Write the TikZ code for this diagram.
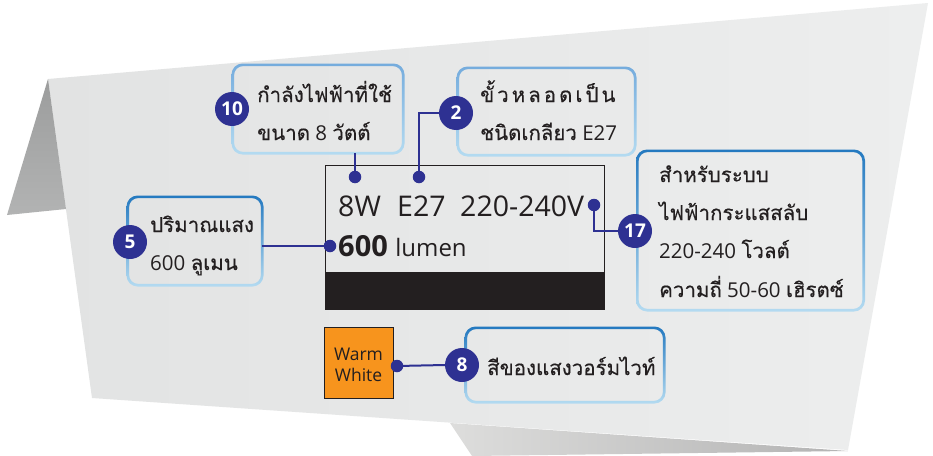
\documentclass[tikz,border=0pt]{standalone}
\usepackage{fontspec}
\setmainfont{Open Sans}
\newfontfamily\thai[Script=Thai, FakeBold=0.4]{Loma}
\usetikzlibrary{calc}
\definecolor{navy}{HTML}{2E3192}
\definecolor{sheetA}{HTML}{E2E3E3}
\definecolor{sheetB}{HTML}{EDEEEE}
\definecolor{foldA}{HTML}{9C9D9D}
\definecolor{foldB}{HTML}{B2B3B3}
\definecolor{shadA}{HTML}{DDDDDC}
\definecolor{shadB}{HTML}{B3B3B3}
\definecolor{ringDark}{HTML}{2479C0}
\definecolor{ringMid}{HTML}{75ACDD}
\definecolor{ringLight}{HTML}{B4DBF1}
\definecolor{labelblack}{HTML}{231F20}
\definecolor{warm}{HTML}{F7941D}
\definecolor{txt}{HTML}{231F20}
\tikzset{
  boxsty/.style={draw=none, inner sep=0pt},
  badge/.style={circle, fill=navy, text=white, inner sep=0pt, minimum size=34pt,
    font=\fontsize{19}{19}\selectfont\bfseries},
  dotsty/.style={circle, fill=navy, inner sep=0pt, minimum size=12.5pt},
  conn/.style={draw=navy, line width=2pt},
  thaitxt/.style={anchor=base west, inner sep=0pt, text=txt, font=\fontsize{20.5}{20.5}\selectfont},
  labtxt/.style={anchor=base west, inner sep=0pt, text=txt, font=\fontsize{28.5}{28.5}\selectfont},
  wwtxt/.style={anchor=base, inner sep=0pt, text=txt, font=\fontsize{17.5}{17.5}\selectfont},
}
\newcommand{\tht}[1]{{\thai\fontsize{20.5}{20.5}\selectfont #1}}
\newcommand{\boxring}[3]{%
  \shade[top color=#2, bottom color=#3, even odd rule, rounded corners=11pt]
    ($(#1.south west)+(-1.3,1.3)$) rectangle ($(#1.north east)+(1.3,-1.3)$)
    [rounded corners=9pt]
    ($(#1.south west)+(1.3,-1.3)$) rectangle ($(#1.north east)+(-1.3,1.3)$);}
\begin{document}
\begin{tikzpicture}[x=1pt,y=-1pt]
\useasboundingbox[fill=white] (0,0) rectangle (933,455);
% paper sheet
\shade[shading angle=60, left color=sheetA, right color=sheetB]
  (48,79) -- (928,3) -- (848,450) -- (92,398) -- cycle;
\shade[top color=foldA, bottom color=foldB] (48,79) -- (7,215) -- (66,209) -- cycle;
\shade[left color=shadA, right color=shadB] (450,423) -- (472,456) -- (848,451) -- cycle;

% label
\node[draw=labelblack, line width=0.9pt, fill=none, minimum width=279pt, minimum height=144pt, inner sep=0pt] (lab) at (464.5,237) {};
\fill[labelblack] (325,272) rectangle (604,309);
\node[labtxt] (t8w) at (338,216) {8W};
\node[labtxt] (te27) at (397,216) {E27};
\node[labtxt] (tv) at (460,216) {220-240V};
\node[anchor=base west, inner sep=0pt, text=txt, font=\fontsize{29}{29}\selectfont] (t600) at (338,256) {\textbf{600} \fontsize{24}{24}\selectfont lumen};

% boxes
\node[boxsty, minimum width=170pt, minimum height=88pt] (b10) at (318,109) {};
\node[boxsty, minimum width=177pt, minimum height=87pt] (b2) at (546.5,111.5) {};
\node[boxsty, minimum width=134pt, minimum height=88pt] (b5) at (195,241) {};
\node[boxsty, minimum width=226pt, minimum height=159pt] (b17) at (750.5,230.5) {};
\node[boxsty, minimum width=198pt, minimum height=74pt] (b8) at (565,365) {};
\boxring{b10}{ringMid}{ringLight}
\boxring{b2}{ringMid}{ringLight}
\boxring{b5}{ringDark}{ringLight}
\boxring{b17}{ringDark}{ringLight}
\boxring{b8}{ringDark}{ringLight}

% texts
\node[thaitxt] (x10a) at (257,102) {\tht{กำลังไฟฟ้าที่ใช้}};
\node[thaitxt] (x10b) at (257,140) {\tht{ขนาด} 8 \tht{วัตต์}};
\node[thaitxt] (x2a) at (480,102) {\tht{ขั้}\hspace{3pt}\tht{ว}\hspace{3pt}\tht{ห}\hspace{3pt}\tht{ล}\hspace{3pt}\tht{อ}\hspace{3pt}\tht{ด}\hspace{3pt}\tht{เ}\hspace{3pt}\tht{ป็}\hspace{3pt}\tht{น}};
\node[thaitxt] (x2b) at (480,140) {\tht{ชนิดเกลียว} E27};
\node[thaitxt] (x5a) at (150,232) {\tht{ปริมาณแสง}};
\node[thaitxt] (x5b) at (150,270) {600 \tht{ลูเมน}};
\node[thaitxt] (x17a) at (659,182) {\tht{สำหรับระบบ}};
\node[thaitxt] (x17b) at (659,220) {\tht{ไฟฟ้ากระแสสลับ}};
\node[thaitxt] (x17c) at (659,258) {220-240 \tht{โวลต์}};
\node[thaitxt] (x17d) at (659,297) {\tht{ความถี่} 50-60 \tht{เฮิรตซ์}};
\node[thaitxt] (x8) at (487,375) {\tht{สีของแสงวอร์มไวท์}};

% warm white swatch
\node[draw=labelblack, line width=0.9pt, fill=warm, minimum width=69pt, minimum height=71pt, inner sep=0pt] (ww) at (358.5,362.5) {};
\node[wwtxt] (ww1) at (358.5,360) {Warm};
\node[wwtxt] (ww2) at (358.5,381) {White};

% dots
\node[dotsty] (d8w) at (355,177) {};
\node[dotsty] (d27) at (419,177) {};
\node[dotsty] (dv) at (594,205) {};
\node[dotsty] (d600) at (330,246) {};
\node[dotsty] (dww) at (397,366) {};

% badges
\node[badge] (c10) at (232,109) {10};
\node[badge] (c2) at (456,113) {2};
\node[badge] (c5) at (130,242) {5};
\node[badge] (c17) at (635,231) {17};
\node[badge] (c8) at (462,365) {8};

% connectors
\draw[conn] (d8w |- b10.south) -- (d8w.center);
\draw[conn] (d27.center) |- (c2.west);
\draw[conn] (dv.center) |- (c17.west);
\draw[conn] (d600 -| b5.east) -- (d600.center);
\draw[conn] (dww.center) -- (c8.west);
\end{tikzpicture}
\end{document}
